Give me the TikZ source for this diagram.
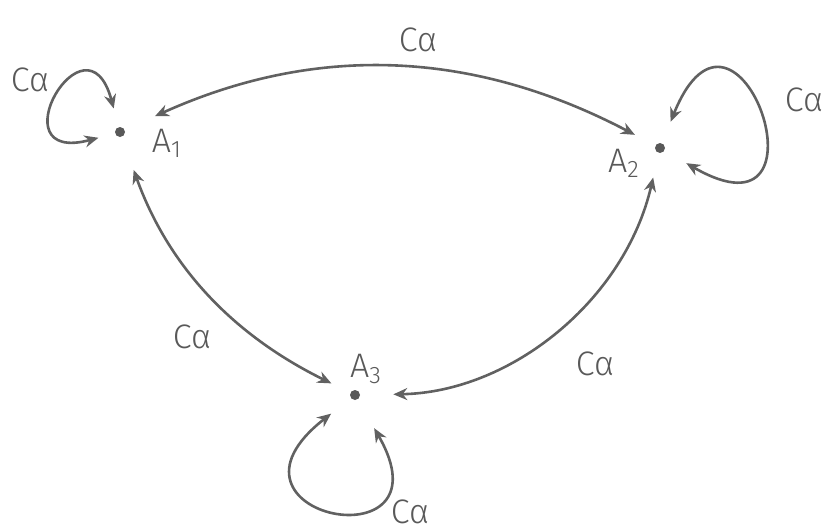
\documentclass[tikz,border=0pt]{standalone}
\usepackage{fontspec}
\setmainfont{Fira Sans Light}
\usetikzlibrary{arrows.meta}

\begin{document}
\begin{tikzpicture}[x=0.5pt,y=0.5pt,>={Stealth[length=7pt,width=6pt]},
  every path/.style={draw=black!62,line width=1.3pt},
  pt/.style={circle,fill=black!65,draw=none,inner sep=0pt,minimum size=5pt},
  lab/.style={font=\fontsize{17}{19}\selectfont,text=black!65}]
  \useasboundingbox[draw=none] (0,0) rectangle (826,-530);
  % the three points
  \node[pt] (a1) at (120,-132) {};
  \node[pt] (a2) at (660,-148) {};
  \node[pt] (a3) at (355,-395) {};
  \node[lab] at (167,-143) {A\textsubscript{1}};
  \node[lab] at (624,-163) {A\textsubscript{2}};
  \node[lab] at (366,-369) {A\textsubscript{3}};
  % transitions between points
  \draw[<->,shorten <=16pt,shorten >=11pt] (a1) to[bend left=26] (a2);
  \draw[<->,shorten <=17pt,shorten >=10pt] (a1) to[bend right=22] (a3);
  \draw[<->,shorten <=12pt,shorten >=16pt] (a2) to[bend left=38] (a3);
  % self loops
  \draw[<->,shorten <=9pt,shorten >=8pt] (a1) to[out=105,in=195,min distance=62pt] (a1);
  \draw[<->,shorten <=11pt,shorten >=12pt] (a2) to[out=68,in=330,min distance=100pt] (a2);
  \draw[<->,shorten <=12pt,shorten >=16pt] (a3) to[out=218,in=300,min distance=96pt] (a3);
  % labels
  \node[lab] at (418,-40)  {Cα};
  \node[lab] at (30,-80)   {Cα};
  \node[lab] at (804,-100) {Cα};
  \node[lab] at (192,-337) {Cα};
  \node[lab] at (595,-364) {Cα};
  \node[lab] at (410,-512) {Cα};
\end{tikzpicture}
\end{document}
